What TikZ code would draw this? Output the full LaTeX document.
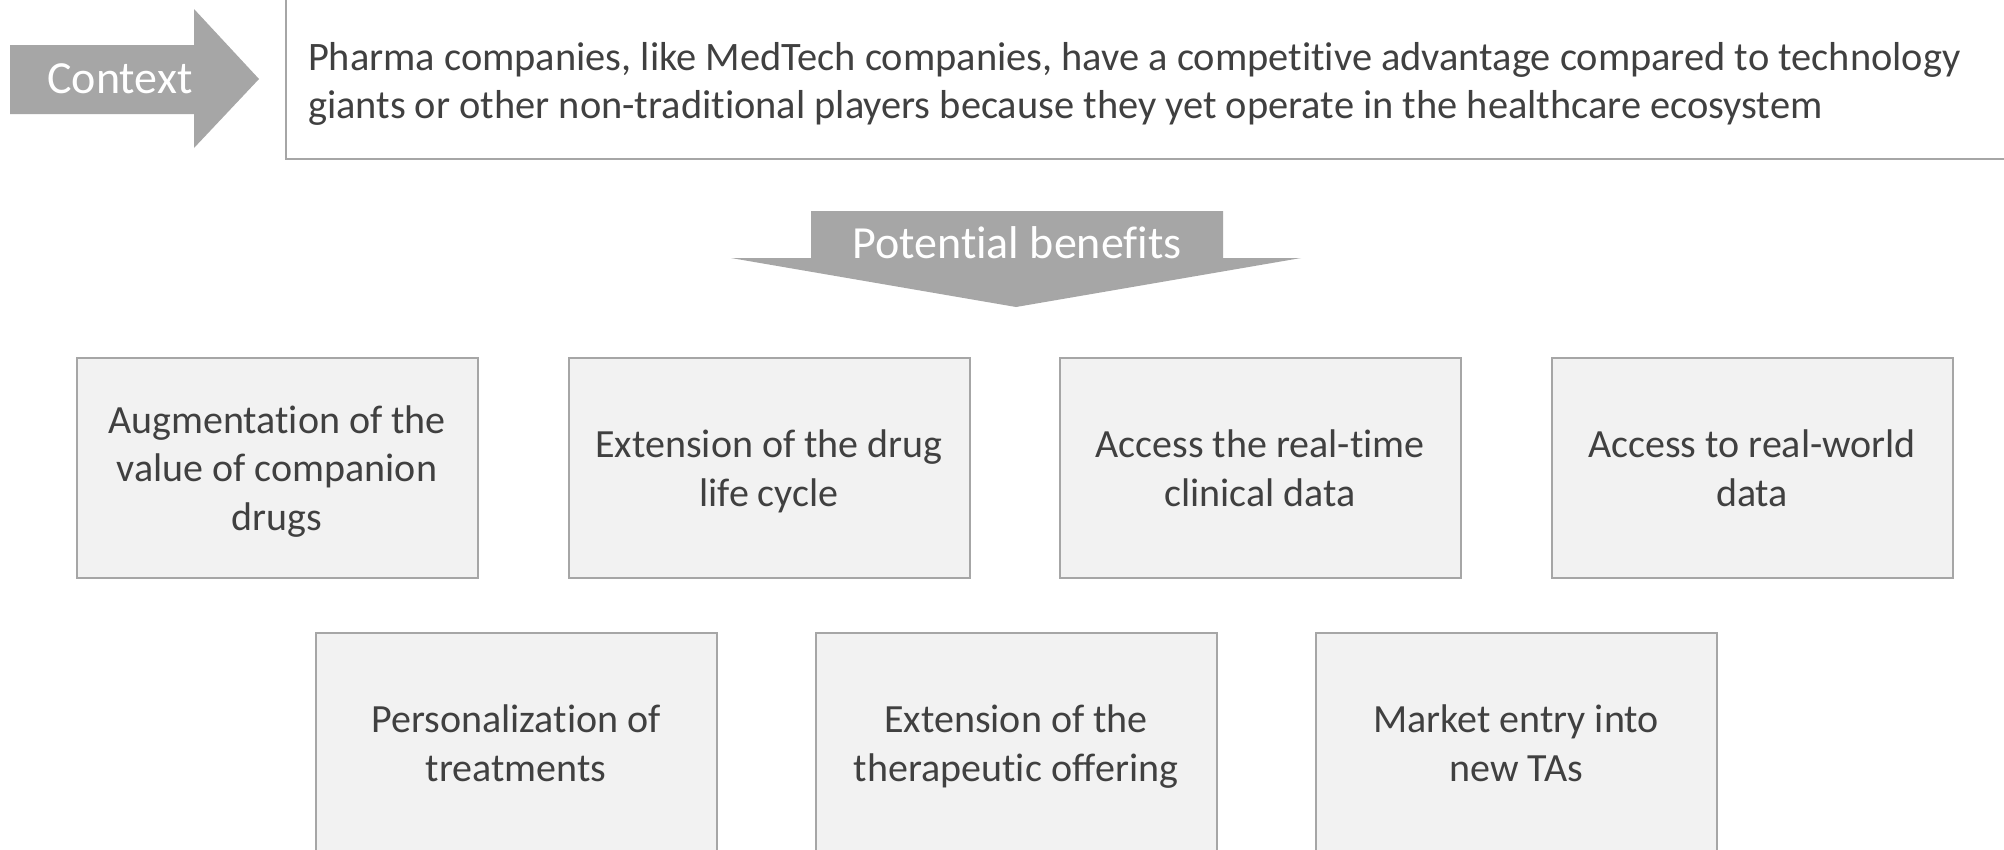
\documentclass[tikz,border=0pt]{standalone}
\usepackage{fontspec}
\setmainfont{Carlito}[Ligatures=NoCommon]
\usepackage{tikz}
\definecolor{arrgray}{HTML}{A6A6A6}
\definecolor{boxfill}{HTML}{F2F2F2}
\definecolor{boxline}{HTML}{A6A6A6}
\definecolor{txtgray}{HTML}{404040}
\tikzset{
  ben/.style={rectangle,draw=boxline,fill=boxfill,line width=2pt,minimum width=401pt,minimum height=220pt,
    align=center,inner sep=0pt,text depth=-5.5pt,text=txtgray,font=\fontsize{40}{48.6}\selectfont},
  lbl/.style={text=white,inner sep=0pt},
  every picture/.style={line width=2pt},
}
\begin{document}
\begin{tikzpicture}[x=1pt,y=-1pt]
\clip (0,0) rectangle (2004,849);
\fill[white] (0,0) rectangle (2004,849);
% context arrow and statement
\fill[arrgray] (10,45)--(194,45)--(194,9)--(259,79)--(194,148)--(194,114)--(10,114)--cycle;
\node[lbl,font=\fontsize{46}{55}\selectfont] (ctx) at (120,79) {Context};
\draw[boxline] (286,-10) rectangle (2020,158.5);
\node[anchor=west,align=left,inner sep=0pt,text=txtgray,font=\fontsize{40.4}{47.5}\selectfont] (stmt) at (307,84)
  {Pharma companies, like MedTech companies, have a competitive advantage compared to technology\\
   giants or other non-traditional players because they yet operate in the healthcare ecosystem};
% potential benefits arrow
\fill[arrgray] (811,211)--(1223,211)--(1223,258)--(1301,258)--(1016,307)--(731,258)--(811,258)--cycle;
\node[lbl,font=\fontsize{46}{55}\selectfont] (pb) at (1017,243) {Potential benefits};
% benefits
\node[ben] (b1) at (277,468) {Augmentation of the\\value of companion\\drugs};
\node[ben] (b2) at (769,468) {Extension of the drug\\life cycle};
\node[ben] (b3) at (1260,468) {Access the real-time\\clinical data};
\node[ben] (b4) at (1752,468) {Access to real-world\\data};
\node[ben] (b5) at (516,743) {Personalization of\\treatments};
\node[ben] (b6) at (1016,743) {Extension of the\\therapeutic offering};
\node[ben] (b7) at (1516,743) {Market entry into\\new TAs};
\end{tikzpicture}
\end{document}
